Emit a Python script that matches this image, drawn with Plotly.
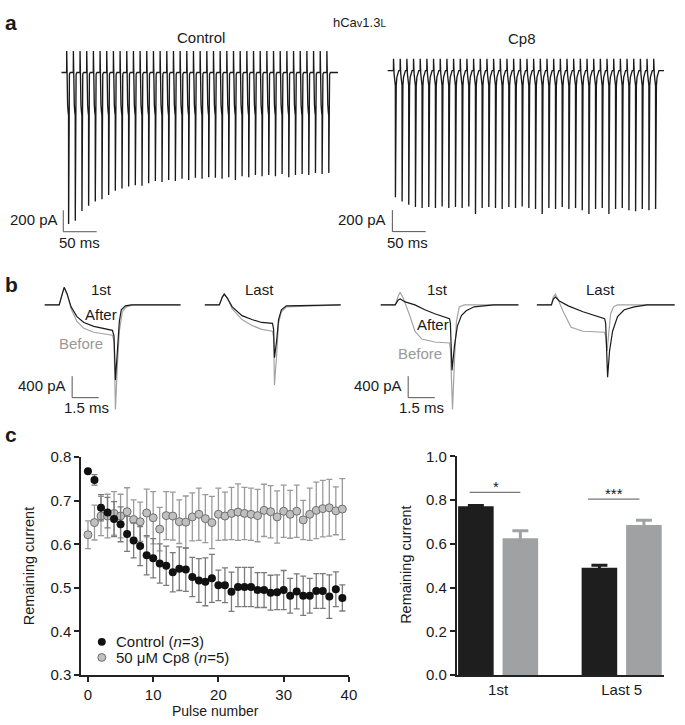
import plotly.graph_objects as go

W, H = 685, 725
def px(x): return x / W
def py(y): return 1 - y / H

FONT = "Liberation Sans, Arial, Helvetica, sans-serif"
TXT = "#1a1a1a"
BLACK = "#1a1a1a"
GRAY = "#a3a3a3"

# ---------------- panel a data (pulse train, 100 Hz, 40 pulses) ----------------
pulse_period_ms = 10
ctrl_tail_peak_pA = [1410, 1380, 1290, 1240, 1200, 1180, 1140, 1100, 1080, 1060,
                     1050, 1055, 1030, 1010, 1020, 1000, 1010, 990, 1000, 980,
                     990, 975, 980, 990, 975, 1000, 965, 975, 955, 965,
                     955, 965, 945, 975, 955, 945, 955, 935, 945, 935]
cp8_tail_peak_pA = [1180, 1220, 1250, 1270, 1280, 1270, 1280, 1265, 1280, 1270,
                    1280, 1265, 1335, 1280, 1270, 1280, 1290, 1270, 1280, 1265,
                    1280, 1290, 1335, 1280, 1290, 1270, 1290, 1280, 1300, 1335,
                    1290, 1280, 1335, 1290, 1280, 1300, 1310, 1290, 1300, 1290]
# single-pulse waveform (ms after pulse onset, pA)
ctrl_pre_t = [0, 0.15, 0.4, 0.8, 1.5, 2.3, 2.9]
ctrl_pre_I = [0, 200, 40, -150, -300, -370, -400]
ctrl_post_t = [3.25, 3.6, 4.2, 5.5]
ctrl_post_I = [-300, -80, -15, 0]
cp8_pre_t = [0, 0.15, 0.4, 1.0, 2.0, 2.9]
cp8_pre_I = [0, 110, 40, -30, -90, -140]
cp8_post_t = [3.25, 3.6, 4.2, 5.2, 6.5, 8.0]
cp8_post_I = [-550, -280, -140, -60, -15, 0]
tail_t = 3.0
ctrl_onset_ms = 8
cp8_onset_ms = 9
train_len_ms = 414.8

# ---------------- panel b data (single sweeps, ms / pA) ----------------
cf_t_after = [0, 0.83, 1.0, 1.11, 1.28, 1.5, 1.83, 2.22, 2.78, 3.33, 3.83, 3.92, 4.0, 4.11, 4.22, 4.33, 4.56, 4.89, 7.67]
cf_I_after = [0, 0, 200, 327, 200, -36, -218, -327, -400, -436, -473, -582, -1400, -855, -309, -91, -18, 0, 0]
cf_t_before = [0, 0.83, 1.0, 1.11, 1.28, 1.5, 1.83, 2.22, 2.78, 3.33, 3.83, 3.92, 4.0, 4.11, 4.22, 4.39, 4.61, 5.0, 7.67]
cf_I_before = [0, 0, 200, 327, 200, -73, -309, -436, -509, -545, -564, -673, -1945, -1127, -491, -127, -36, 0, 0]

cl_t = [0, 0.83, 1.0, 1.11, 1.28, 1.56, 2.11, 2.67, 3.22, 3.83, 3.89, 3.94, 4.06, 4.17, 4.33, 4.61, 7.67]
cl_I_after = [0, 0, 145, 200, 127, -36, -200, -273, -327, -345, -455, -982, -673, -273, -91, -18, 0]
cl_I_before = [0, 0, 145, 200, 127, -73, -273, -382, -455, -491, -600, -1491, -945, -345, -127, -36, 0]

pf_t_before = [0, 0.83, 1.0, 1.11, 1.28, 1.44, 1.67, 1.94, 2.33, 3.06, 3.89, 3.94, 4.06, 4.17, 4.28, 4.44, 4.72, 7.78]
pf_I_before = [0, 0, 164, 236, 127, 0, -218, -491, -636, -691, -709, -818, -1945, -1036, -309, -36, 0, 0]
pf_t_after = [0, 0.83, 1.0, 1.11, 1.39, 1.94, 2.5, 3.06, 3.89, 3.94, 4.03, 4.17, 4.33, 4.56, 4.83, 5.28, 5.83, 6.39, 7.78]
pf_I_after = [0, 0, 91, 109, 55, 0, -91, -164, -255, -345, -1218, -764, -400, -200, -109, -36, -18, 0, 0]

pl_t_before = [0, 0.83, 0.94, 1.06, 1.22, 1.5, 1.94, 2.61, 3.83, 3.89, 3.97, 4.06, 4.17, 4.33, 4.56, 7.78]
pl_I_before = [0, 0, 145, 200, 91, -127, -418, -491, -509, -582, -855, -491, -164, -36, 0, 0]
pl_t_after = [0, 0.83, 0.94, 1.06, 1.28, 1.78, 2.61, 3.83, 3.89, 4.0, 4.11, 4.28, 4.56, 4.94, 5.5, 6.22, 7.78]
pl_I_after = [0, 0, 109, 145, 73, -18, -127, -255, -345, -1345, -855, -491, -218, -91, -36, 0, 0]

# ---------------- panel c data ----------------
pulse_number = list(range(40))
ctrl_remaining = [0.768, 0.748, 0.684, 0.673, 0.658, 0.646, 0.624, 0.609, 0.596, 0.575,
                  0.568, 0.556, 0.551, 0.536, 0.544, 0.542, 0.525, 0.517, 0.514, 0.522,
                  0.506, 0.506, 0.491, 0.502, 0.502, 0.502, 0.495, 0.495, 0.489, 0.490,
                  0.495, 0.482, 0.492, 0.482, 0.482, 0.493, 0.493, 0.480, 0.497, 0.477]
ctrl_sem = [0.004, 0.012, 0.03, 0.035, 0.04, 0.04, 0.04, 0.04, 0.045, 0.045,
            0.045, 0.045, 0.045, 0.045, 0.05, 0.05, 0.045, 0.05, 0.055, 0.055,
            0.035, 0.04, 0.045, 0.045, 0.045, 0.045, 0.04, 0.04, 0.04, 0.04,
            0.045, 0.04, 0.04, 0.045, 0.04, 0.04, 0.04, 0.05, 0.04, 0.03]
cp8_remaining = [0.622, 0.650, 0.665, 0.665, 0.671, 0.665, 0.675, 0.657, 0.652, 0.672,
                 0.661, 0.635, 0.666, 0.665, 0.652, 0.651, 0.663, 0.669, 0.659, 0.650,
                 0.669, 0.665, 0.671, 0.674, 0.671, 0.669, 0.666, 0.678, 0.675, 0.663,
                 0.676, 0.669, 0.676, 0.656, 0.669, 0.678, 0.682, 0.684, 0.677, 0.681]
cp8_sem = [0.032, 0.04, 0.045, 0.05, 0.05, 0.05, 0.055, 0.045, 0.045, 0.055,
           0.06, 0.05, 0.055, 0.055, 0.05, 0.06, 0.055, 0.06, 0.055, 0.06,
           0.06, 0.055, 0.06, 0.065, 0.06, 0.06, 0.06, 0.06, 0.06, 0.06,
           0.06, 0.055, 0.06, 0.045, 0.06, 0.065, 0.065, 0.065, 0.055, 0.07]

bar_groups = ["1st", "Last 5"]
bar_ctrl = [0.772, 0.490]
bar_ctrl_err = [0.003, 0.012]
bar_cp8 = [0.625, 0.686]
bar_cp8_err = [0.035, 0.022]

# scale-bar sizes
sb_a_pA, sb_a_ms = 200, 50
sb_b_pA, sb_b_ms = 400, 1.5


def build_train(onset, peaks, pre_t, pre_I, post_t, post_I):
    t, I = [0.0], [0.0]
    for k, pk in enumerate(peaks):
        t0 = onset + k * pulse_period_ms
        for a, b in zip(pre_t, pre_I):
            t.append(t0 + a); I.append(b)
        t.append(t0 + tail_t); I.append(-pk)
        for a, b in zip(post_t, post_I):
            t.append(t0 + a); I.append(b)
    t.append(train_len_ms); I.append(0)
    return t, I


fig = go.Figure()

ct, cI = build_train(ctrl_onset_ms, ctrl_tail_peak_pA, ctrl_pre_t, ctrl_pre_I, ctrl_post_t, ctrl_post_I)
pt, pI = build_train(cp8_onset_ms, cp8_tail_peak_pA, cp8_pre_t, cp8_pre_I, cp8_post_t, cp8_post_I)
fig.add_trace(go.Scatter(x=ct, y=cI, mode="lines", line=dict(color=BLACK, width=1.35), xaxis="x", yaxis="y", showlegend=False))
fig.add_trace(go.Scatter(x=pt, y=pI, mode="lines", line=dict(color=BLACK, width=1.35), xaxis="x2", yaxis="y2", showlegend=False))

def add_pair(ax, tb, Ib, ta, Ia):
    fig.add_trace(go.Scatter(x=tb, y=Ib, mode="lines", line=dict(color=GRAY, width=1.2),
                             xaxis="x" + ax, yaxis="y" + ax, showlegend=False))
    fig.add_trace(go.Scatter(x=ta, y=Ia, mode="lines", line=dict(color=BLACK, width=1.2),
                             xaxis="x" + ax, yaxis="y" + ax, showlegend=False))

add_pair("3", cf_t_before, cf_I_before, cf_t_after, cf_I_after)
add_pair("4", cl_t, cl_I_before, cl_t, cl_I_after)
add_pair("5", pf_t_before, pf_I_before, pf_t_after, pf_I_after)
add_pair("6", pl_t_before, pl_I_before, pl_t_after, pl_I_after)

fig.add_trace(go.Scatter(x=pulse_number, y=cp8_remaining, mode="markers",
                         error_y=dict(type="data", array=cp8_sem, color="#9a9a9a", thickness=1.3, width=3),
                         marker=dict(size=8, color="#c0c0c0", line=dict(color="#6e6e6e", width=1)),
                         xaxis="x7", yaxis="y7", showlegend=False))
fig.add_trace(go.Scatter(x=pulse_number, y=ctrl_remaining, mode="markers",
                         error_y=dict(type="data", array=ctrl_sem, color="#7a7a7a", thickness=1.3, width=3),
                         marker=dict(size=8, color="#111111"),
                         xaxis="x7", yaxis="y7", showlegend=False))

fig.add_trace(go.Bar(x=bar_groups, y=bar_ctrl, marker=dict(color="#1e1e1e", line=dict(width=0)),
                     error_y=dict(type="data", array=bar_ctrl_err, color="#1e1e1e", thickness=3, width=8),
                     xaxis="x8", yaxis="y8", showlegend=False))
fig.add_trace(go.Bar(x=bar_groups, y=bar_cp8, marker=dict(color="#a0a1a3", line=dict(width=0)),
                     error_y=dict(type="data", array=bar_cp8_err, color="#a0a1a3", thickness=3, width=8),
                     xaxis="x8", yaxis="y8", showlegend=False))

hidden = dict(visible=False, showgrid=False, zeroline=False, fixedrange=True)
a_ydom = [py(235), py(35)]
b_ydom = [py(415), py(280)]
lay = dict(
    width=W, height=H, margin=dict(l=0, r=0, t=0, b=0), autosize=False,
    paper_bgcolor="white", plot_bgcolor="white",
    font=dict(family=FONT, color=TXT, size=15),
    bargap=0.28, bargroupgap=0.2, barmode="group",
    xaxis=dict(domain=[px(62), px(342)], range=[0, train_len_ms], anchor="y", **hidden),
    yaxis=dict(domain=a_ydom, range=[-1545, 273], anchor="x", **hidden),
    xaxis2=dict(domain=[px(392), px(672)], range=[0, train_len_ms], anchor="y2", **hidden),
    yaxis2=dict(domain=a_ydom, range=[-1564, 255], anchor="x2", **hidden),
)
for i, x0 in zip(["3", "4", "5", "6"], [45, 207, 385, 543]):
    lay["xaxis" + i] = dict(domain=[px(x0), px(x0 + 140)], range=[0, 7.8], anchor="y" + i, **hidden)
    lay["yaxis" + i] = dict(domain=b_ydom, range=[-2036, 418], anchor="x" + i, **hidden)

axis_common = dict(showline=True, linecolor="#222", linewidth=1.5, ticks="outside", ticklen=5,
                   tickwidth=1.5, tickcolor="#222", showgrid=False, zeroline=False,
                   tickfont=dict(size=15, family=FONT, color=TXT), fixedrange=True)
lay["xaxis7"] = dict(domain=[px(82), px(353)], range=[-1.06, 40], tickvals=[0, 10, 20, 30, 40],
                     anchor="y7", **axis_common)
lay["yaxis7"] = dict(domain=[py(682), py(459)], range=[0.3, 0.8], tickvals=[0.3, 0.4, 0.5, 0.6, 0.7, 0.8],
                     tickformat=".1f", anchor="x7", **axis_common)
ax8 = dict(axis_common); ax8["ticks"] = ""
lay["xaxis8"] = dict(domain=[px(462), px(672)], range=[-0.336, 1.344], type="category", anchor="y8", **ax8)
lay["yaxis8"] = dict(domain=[py(682), py(458)], range=[0, 1.0], tickvals=[0, 0.2, 0.4, 0.6, 0.8, 1.0],
                     tickformat=".1f", anchor="x8", **axis_common)
fig.update_layout(**lay)

ann = []
def text(x, y, s, size=15, color=TXT, xanchor="center", bold=False, angle=0, xref="paper", yref="paper", raw=False):
    ann.append(dict(x=x if raw else px(x), y=y if raw else py(y), xref=xref, yref=yref,
                    text=("<b>%s</b>" % s) if bold else s, showarrow=False,
                    font=dict(size=size, color=color, family=FONT), xanchor=xanchor, yanchor="middle",
                    textangle=angle))

text(3, 14, "a", 21, xanchor="left", bold=True)
text(3, 282, "b", 21, xanchor="left", bold=True)
text(3, 436, "c", 21, xanchor="left", bold=True)
text(364, 14, "hCa<span style='font-size:11px'>v</span>1.3<span style='font-size:10px'>L</span>", 13)
text(203, 29, "Control", 15)
text(528, 30, "Cp8", 15)
text(61, 216, "200 pA", 15, xanchor="right")
text(80, 239, "50 ms", 15)
text(393, 216, "200 pA", 15, xanchor="right")
text(412, 239, "50 ms", 15)
text(103, 287, "1st", 15); text(263, 287, "Last", 15)
text(443, 287, "1st", 15); text(608, 287, "Last", 15)
text(102, 313, "After", 15); text(82, 343, "Before", 15, color="#999999")
text(438, 323, "After", 15); text(425, 353, "Before", 15, color="#999999")
text(69, 386, "400 pA", 15, xanchor="right"); text(88, 408, "1.5 ms", 15)
text(409, 386, "400 pA", 15, xanchor="right"); text(426, 408, "1.5 ms", 15)
text(29, 571, "Remaining current", 14.5, angle=-90)
text(218, 718.5, "Pulse number", 14)
text(410, 569, "Remaining current", 14.5, angle=-90)
text(115, 648, "Control (<i>n</i>=3)", 15, xanchor="left")
text(115, 664, "50 μM Cp8 (<i>n</i>=5)", 15, xanchor="left")
text(-0.02, 0.86, "*", 15, xref="x8", yref="y8", raw=True)
text(0.936, 0.83, "***", 15, xref="x8", yref="y8", raw=True)
fig.update_layout(annotations=ann)

shapes = []
def line(x0, y0, x1, y1, xref, yref, color="#555", width=1):
    shapes.append(dict(type="line", x0=x0, y0=y0, x1=x1, y1=y1, xref=xref, yref=yref,
                       line=dict(color=color, width=width)))

for ax, t0, I0 in [("", 3, -1482), ("2", 7.4, -1500)]:
    line(t0, I0, t0, I0 + sb_a_pA, "x" + ax, "y" + ax)
    line(t0, I0, t0 + sb_a_ms, I0, "x" + ax, "y" + ax)
for ax in ["3", "5"]:
    line(1.56, -1727, 1.56, -1727 + sb_b_pA, "x" + ax, "y" + ax)
    line(1.56, -1727, 1.56 + sb_b_ms, -1727, "x" + ax, "y" + ax)
line(-0.23, 0.835, 0.18, 0.835, "x8", "y8", color="#777", width=1.3)
line(0.728, 0.804, 1.144, 0.804, "x8", "y8", color="#777", width=1.3)
shapes.append(dict(type="circle", xref="paper", yref="paper", x0=px(99), x1=px(107), y0=py(652), y1=py(644),
                   fillcolor="#111111", line=dict(width=0)))
shapes.append(dict(type="circle", xref="paper", yref="paper", x0=px(99), x1=px(107), y0=py(668), y1=py(660),
                   fillcolor="#c0c0c0", line=dict(color="#6e6e6e", width=1)))
fig.update_layout(shapes=shapes)

fig.write_html("out.html", config={"displayModeBar": False},
               post_script="document.body.style.margin='0';document.body.style.overflow='hidden';")
